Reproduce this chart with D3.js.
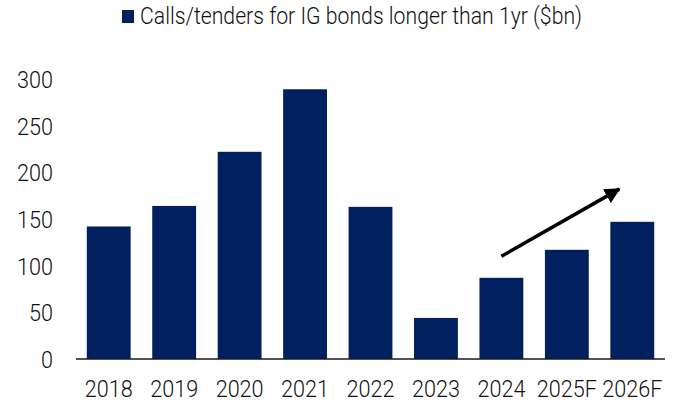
<!DOCTYPE html>
<html>
<head>
<meta charset="utf-8">
<script src="https://cdn.jsdelivr.net/npm/d3@7"></script>
<style>
  body { margin: 0; background: #fff; }
  text { font-family: Roboto, "Noto Sans", sans-serif; font-weight: 300; fill: #111; }
</style>
</head>
<body>
<svg width="678" height="402"></svg>
<script>
var years = ["2018", "2019", "2020", "2021", "2022", "2023", "2024", "2025F", "2026F"];
var calls = [142, 164, 222, 289, 163, 44, 87, 117, 147];
var yTicks = [0, 50, 100, 150, 200, 250, 300];
var legendLabel = "Calls/tenders for IG bonds longer than 1yr ($bn)";
// arrow from 2024 to near 2026F, in data units
var arrowFrom = { year: "2024", shift: 0, value: 110 };
var arrowTo = { year: "2026F", shift: -0.2, value: 182 };

var svg = d3.select("svg");
var navy = "#002060";
var squeeze = 0.9;

var x = d3.scaleBand().domain(years).range([76, 665]).paddingInner(0.33).paddingOuter(0.165);
var y = d3.scaleLinear().domain([0, 300]).range([359, 79]);

//narrow the glyphs a bit, the source font is condensed
function condense(sel) {
  sel.each(function() {
    var w = this.getComputedTextLength();
    d3.select(this).attr("textLength", w * squeeze).attr("lengthAdjust", "spacingAndGlyphs");
  });
}

//Bars
svg.selectAll("rect.bar")
    .data(years)
  .enter().append("rect")
    .attr("class", "bar")
    .attr("x", function(d) { return x(d); })
    .attr("width", x.bandwidth())
    .attr("y", function(d, i) { return y(calls[i]); })
    .attr("height", function(d, i) { return y(0) - y(calls[i]); })
    .attr("fill", navy);

//Y axis (labels only)
var yAxis = svg.append("g")
    .attr("transform", "translate(53,0)")
    .call(d3.axisLeft(y).tickValues(yTicks).tickSize(0).tickPadding(0));
yAxis.select(".domain").remove();
yAxis.selectAll("text").style("font-size", "24px").attr("dy", "0.36em").call(condense);

//X axis
var xAxis = svg.append("g")
    .attr("transform", "translate(0," + y(0) + ")")
    .call(d3.axisBottom(x).tickSize(0).tickPadding(21));
xAxis.select(".domain").remove();
xAxis.selectAll("text").style("font-size", "24px").attr("dy", "0.71em").call(condense);

svg.append("line")
    .attr("x1", 76).attr("x2", 665)
    .attr("y1", y(0)).attr("y2", y(0))
    .attr("stroke", "#1a1a1a").attr("stroke-width", 1.5);

//Arrow
svg.append("defs").append("marker")
    .attr("id", "head")
    .attr("viewBox", "0 0 10 10")
    .attr("refX", 9).attr("refY", 5)
    .attr("markerWidth", 4.5).attr("markerHeight", 4.5)
    .attr("markerUnits", "strokeWidth")
    .attr("orient", "auto")
  .append("path")
    .attr("d", "M0,0 L10,5 L0,10 z")
    .attr("fill", "#000");

function ax(p) { return x(p.year) + x.bandwidth() / 2 + p.shift * x.step(); }
svg.append("line")
    .attr("x1", ax(arrowFrom)).attr("y1", y(arrowFrom.value))
    .attr("x2", ax(arrowTo)).attr("y2", y(arrowTo.value))
    .attr("stroke", "#000").attr("stroke-width", 3.5)
    .attr("marker-end", "url(#head)");

//Legend
var legend = svg.append("g");
legend.append("rect")
    .attr("x", 122).attr("y", 10).attr("width", 12).attr("height", 13)
    .attr("fill", navy);
legend.append("text")
    .attr("x", 140).attr("y", 24)
    .attr("textLength", 442)
    .attr("lengthAdjust", "spacingAndGlyphs")
    .style("font-size", "24px")
    .text(legendLabel);
</script>
</body>
</html>
